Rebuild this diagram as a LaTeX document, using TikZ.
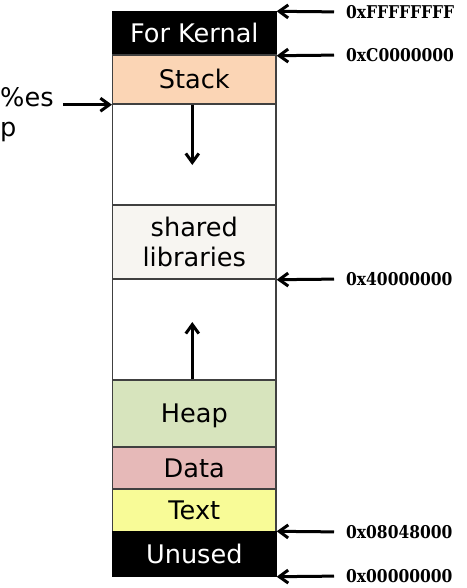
\documentclass[tikz,border=0pt]{standalone}
\usepackage{fontspec}
\setmainfont{DejaVu Sans}
\newfontfamily\addrfont{DejaVu Serif}[FakeStretch=0.88]
\usepackage{xcolor}
\usetikzlibrary{arrows.meta}
\definecolor{stackcol}{HTML}{FBD5B5}
\definecolor{libcol}{HTML}{F7F5F1}
\definecolor{heapcol}{HTML}{D7E4BD}
\definecolor{datacol}{HTML}{E6B9B8}
\definecolor{textcol}{HTML}{F8FB97}

\begin{document}
\begin{tikzpicture}[x=1pt,y=-1pt,
  seg/.style={draw=black!75,line width=1.4pt,minimum width=163.3pt,inner sep=0pt,
    font=\fontsize{25.6}{30}\selectfont},
  oneline/.style={text height=25pt,text depth=6.4pt},
  dark/.style={fill=black,draw=black,text=white},
  addr/.style={anchor=west,inner sep=0pt,font=\addrfont\bfseries\fontsize{17.6}{20}\selectfont},
  ptr/.style={line width=3pt,-{Straight Barb[length=9pt,width=13pt,line width=3pt]}}]
\useasboundingbox (0,0) rectangle (466,588);

% memory segments, top to bottom
\node[seg,oneline,dark,minimum height=43pt] (kern) at (194.3,33.5) {For Kernal};
\node[seg,oneline,fill=stackcol,minimum height=49pt] (stack) at (194.3,79.5) {Stack};
\node[seg,fill=white,minimum height=101pt] (upgap) at (194.3,154.5) {};
\node[seg,align=center,fill=libcol,minimum height=74pt] (shlib) at (194.3,242) {shared\\libraries};
\node[seg,fill=white,minimum height=101pt] (lowgap) at (194.3,329.5) {};
\node[seg,oneline,fill=heapcol,minimum height=67pt] (heap) at (194.3,413.5) {Heap};
\node[seg,oneline,fill=datacol,minimum height=42pt] (data) at (194.3,468) {Data};
\node[seg,oneline,fill=textcol,minimum height=43pt] (text) at (194.3,510.5) {Text};
\node[seg,oneline,dark,minimum height=44pt] (unused) at (194.3,554) {Unused};

% growth directions
\coordinate (stackend) at (192.3,165);
\coordinate (heapend) at (192.3,322);
\draw[ptr] (stackend |- stack.south) -- (stackend);
\draw[ptr] (heapend |- heap.north) -- (heapend);

% addresses
\node[addr] (aF) at (346,12) {0xFFFFFFFF};
\node[addr] (aC) at (346,55) {0xC0000000};
\node[addr] (a4) at (346,279) {0x40000000};
\node[addr] (a08) at (346,532) {0x08048000};
\node[addr] (a0) at (346,576) {0x00000000};
\draw[ptr,shorten <=12pt] (aF.west) -- (kern.north east);
\draw[ptr,shorten <=12pt] (aC.west) -- (kern.south east);
\draw[ptr,shorten <=12pt] (a4.west) -- (shlib.south east);
\draw[ptr,shorten <=12pt] (a08.west) -- (unused.north east);
\draw[ptr,shorten <=12pt] (a0.west) -- (unused.south east);

% stack pointer
\node[anchor=north west,align=left,inner sep=0pt,font=\fontsize{25.6}{29.5}\selectfont] (esp) at (0,87.5) {\%es\\p};
\draw[ptr,shorten <=9pt] (esp.east |- stack.south west) -- (stack.south west);
\end{tikzpicture}
\end{document}
